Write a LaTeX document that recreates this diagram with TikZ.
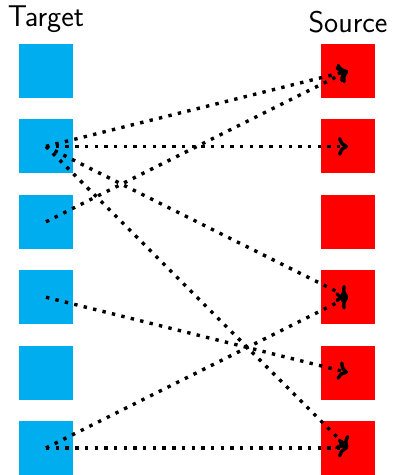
\documentclass[tikz,border=0pt]{standalone}
\usetikzlibrary{arrows.meta}
\definecolor{tgtblue}{RGB}{0,174,239}
\definecolor{srcred}{RGB}{255,0,0}
\begin{document}
\begin{tikzpicture}[x=1pt,y=-1pt,
  tgtbox/.style={fill=tgtblue,draw=none,minimum size=54pt,inner sep=0pt},
  srcbox/.style={fill=srcred,draw=none,minimum size=54pt,inner sep=0pt},
  head/.style={anchor=south,inner sep=0pt,font=\fontsize{30}{36}\selectfont\sffamily},
  link/.style={-{To[length=10pt,width=19pt]},line width=3.4pt,dash pattern=on 3.4pt off 6.3pt}]
  \useasboundingbox (0,0) rectangle (393,475);
  % columns of squares
  \foreach \i in {1,...,6}{
    \node[tgtbox] (t\i) at (46,{71+75.4*(\i-1)}) {};
    \node[srcbox] (s\i) at (348,{71+75.4*(\i-1)}) {};
  }
  \node[head] (tlabel) at (46,33) {Target};
  \node[head] (slabel) at (348,33) {Source};
  % links between centres
  \draw[link] (t2.center) -- (s1.center);
  \draw[link] (t2.center) -- (s2.center);
  \draw[link] (t2.center) -- (s4.center);
  \draw[link] (t2.center) -- (s6.center);
  \draw[link] (t3.center) -- (s1.center);
  \draw[link] (t4.center) -- (s5.center);
  \draw[link] (t6.center) -- (s4.center);
  \draw[link] (t6.center) -- (s6.center);
\end{tikzpicture}
\end{document}
